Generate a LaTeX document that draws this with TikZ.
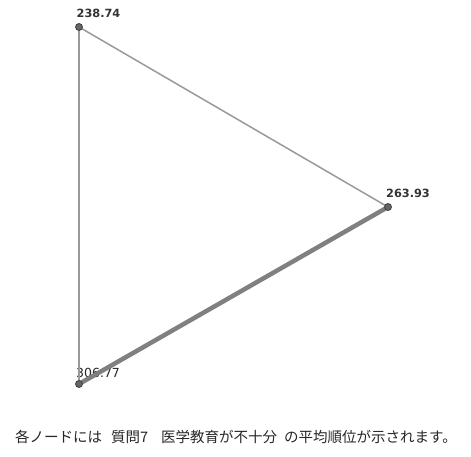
\documentclass[tikz,border=0pt]{standalone}
\usepackage{fontspec}
\setmainfont{DejaVu Sans}
\newfontfamily\cjk{Noto Sans CJK JP}
\begin{document}
\begin{tikzpicture}[x=1pt,y=-1pt,
  vtx/.style={circle,fill=black!60,draw=black!75,line width=0.8pt,inner sep=0pt,minimum size=7pt},
  thin edge/.style={draw=black!40,line width=1.5pt},
  thick edge/.style={draw=black!50,line width=4.5pt},
  val/.style={font=\fontsize{11.3}{13}\selectfont\bfseries,text=black!80,inner sep=0pt,anchor=base west}]
\useasboundingbox (0,0) rectangle (471,457);
\coordinate (A) at (79,27);
\coordinate (B) at (388,207);
\coordinate (C) at (79,384);
\node[val] (la) at (76.5,18) {238.74};
\node[val] (lb) at (386,197) {263.93};
\node[val, font=\fontsize{12.5}{14}\selectfont, text=black!85] (lc) at (76,377) {306.77};
\draw[thin edge] (A) -- (B);
\draw[thin edge] (A) -- (C);
\draw[thick edge] (B) -- (C);
\node[vtx] (a) at (A) {};
\node[vtx] (b) at (B) {};
\node[vtx] (c) at (C) {};
\node[font=\cjk\fontsize{14.5}{16}\selectfont, text=black!85, inner sep=0pt] (cap) at (236,437) {各ノードには\hspace{9pt}質問7\hspace{13pt}医学教育が不十分\hspace{7pt}の平均順位が示されます。};
\end{tikzpicture}
\end{document}
